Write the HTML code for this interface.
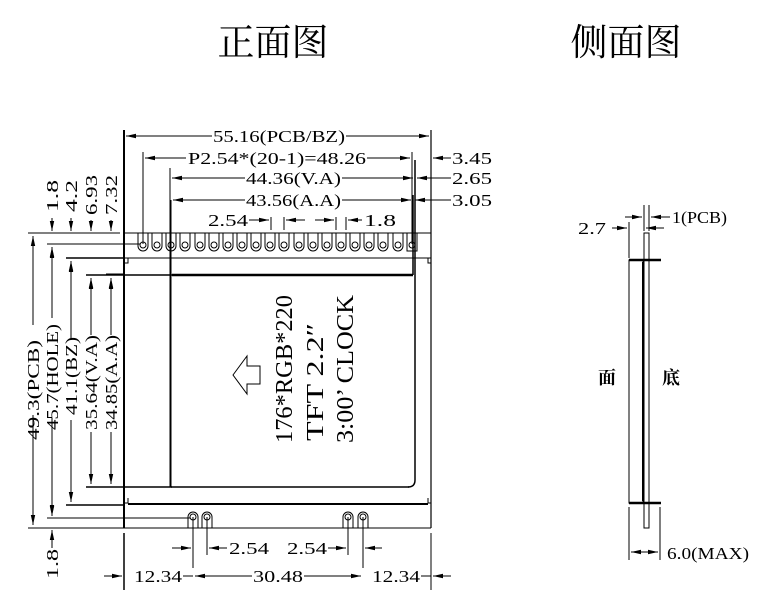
<!DOCTYPE html>
<html><head><meta charset="utf-8"><style>
html,body{margin:0;padding:0;background:#fff;}
svg{display:block;}
text{font-family:"Liberation Serif","Noto Serif CJK SC",serif;fill:#000;}
</style></head><body>
<svg width="781" height="612" viewBox="0 0 781 612" xmlns="http://www.w3.org/2000/svg">
<defs>
<marker id="a" viewBox="0 0 10 6" refX="10" refY="3" markerWidth="11" markerHeight="6" orient="auto-start-reverse" markerUnits="userSpaceOnUse"><path d="M0,0.8 L10,3 L0,5.2 z" fill="#000"/></marker>
</defs>
<text x="273" y="55" font-size="37" text-anchor="middle">正面图</text>
<text x="626" y="55" font-size="37" text-anchor="middle">侧面图</text>

<g stroke="#000" fill="none" stroke-width="1">
<line x1="124" y1="130" x2="124" y2="528" stroke-width="2"/>
<line x1="431" y1="130" x2="431" y2="528" stroke-width="1.2"/>
<line x1="124" y1="233" x2="431" y2="233"/>
<line x1="28" y1="528" x2="431" y2="528"/>
<line x1="124" y1="533" x2="124" y2="590" stroke-width="1.5"/>
<line x1="431" y1="533" x2="431" y2="590"/>
<path d="M128,258 L428,258 M124,258 L128,258 L128,263 L124,263 M431,258 L428,258 L428,263 L431,263"/>
<path d="M128,503 L124,503 M128,503 L128,498 M428,498 L428,503 L431,503"/>
<line x1="128" y1="504" x2="428" y2="504" stroke-width="2"/>
<line x1="172" y1="275" x2="413" y2="275" stroke-width="2.5"/>
<line x1="170" y1="168" x2="170" y2="487"/>
<line x1="171" y1="200" x2="171" y2="487"/>
<path d="M415,160 L415,480 Q415,487 408,487" stroke-width="1.5"/>
<line x1="413" y1="195" x2="413" y2="275" stroke-width="1.5"/>
<line x1="171" y1="487" x2="409" y2="487" stroke-width="1.5"/>
<line x1="28" y1="233" x2="120" y2="233"/>
<line x1="47" y1="244" x2="140" y2="244"/>
<line x1="66" y1="258" x2="124" y2="258" stroke-width="1.5"/>
<line x1="86" y1="275" x2="172" y2="275" stroke-width="1.5"/>
<line x1="106" y1="274" x2="124" y2="274"/>
<line x1="86" y1="487" x2="172" y2="487" stroke-width="1.5"/>
<line x1="66" y1="505" x2="124" y2="505" stroke-width="1.5"/>
<line x1="47" y1="518" x2="190" y2="518"/>
<line x1="33" y1="236" x2="33" y2="325" marker-start="url(#a)"/>
<line x1="33" y1="415" x2="33" y2="525" marker-end="url(#a)"/>
<line x1="52" y1="247" x2="52" y2="318" marker-start="url(#a)"/>
<line x1="52" y1="418" x2="52" y2="515" marker-end="url(#a)"/>
<line x1="71" y1="261" x2="71" y2="340" marker-start="url(#a)"/>
<line x1="71" y1="420" x2="71" y2="502" marker-end="url(#a)"/>
<line x1="91" y1="278" x2="91" y2="335" marker-start="url(#a)"/>
<line x1="91" y1="432" x2="91" y2="484" marker-end="url(#a)"/>
<line x1="111" y1="278" x2="111" y2="335" marker-start="url(#a)"/>
<line x1="111" y1="432" x2="111" y2="484" marker-end="url(#a)"/>
<line x1="52" y1="218" x2="52" y2="231" marker-end="url(#a)"/>
<line x1="52" y1="248" x2="52" y2="262" marker-start="url(#a)"/>
<line x1="71" y1="218" x2="71" y2="231" marker-end="url(#a)"/>
<line x1="71" y1="262" x2="71" y2="280" marker-start="url(#a)"/>
<line x1="91" y1="220" x2="91" y2="231" marker-end="url(#a)"/>
<line x1="91" y1="279" x2="91" y2="290" marker-start="url(#a)"/>
<line x1="111" y1="220" x2="111" y2="231" marker-end="url(#a)"/>
<line x1="111" y1="279" x2="111" y2="290" marker-start="url(#a)"/>
<line x1="52" y1="497" x2="52" y2="516" marker-end="url(#a)"/>
<line x1="52" y1="530" x2="52" y2="548" marker-start="url(#a)"/>
<line x1="126" y1="136" x2="212" y2="136" marker-start="url(#a)"/>
<line x1="346" y1="136" x2="429" y2="136" marker-end="url(#a)"/>
<line x1="143" y1="152" x2="143" y2="244"/>
<line x1="412" y1="152" x2="412" y2="244"/>
<line x1="145" y1="158" x2="186" y2="158" marker-start="url(#a)"/>
<line x1="367" y1="158" x2="410" y2="158" marker-end="url(#a)"/>
<line x1="451" y1="158" x2="433" y2="158" marker-end="url(#a)"/>
<line x1="172" y1="178" x2="245" y2="178" marker-start="url(#a)"/>
<line x1="342" y1="178" x2="413" y2="178" marker-end="url(#a)"/>
<line x1="451" y1="178" x2="417" y2="178" marker-end="url(#a)"/>
<line x1="173" y1="200" x2="245" y2="200" marker-start="url(#a)"/>
<line x1="342" y1="200" x2="411" y2="200" marker-end="url(#a)"/>
<line x1="451" y1="200" x2="415" y2="200" marker-end="url(#a)"/>
<line x1="249" y1="220" x2="269" y2="220" marker-end="url(#a)"/>
<line x1="305" y1="220" x2="286" y2="220" marker-end="url(#a)"/>
<line x1="315" y1="220" x2="334" y2="220" marker-end="url(#a)"/>
<line x1="362" y1="220" x2="348" y2="220" marker-end="url(#a)"/>
<line x1="271" y1="217" x2="271" y2="230"/>
<line x1="284" y1="217" x2="284" y2="230"/>
<line x1="336" y1="217" x2="336" y2="230"/>
<line x1="346" y1="217" x2="346" y2="230"/>
<path d="M188,528 L188,517 A5,5 0 0 1 198,517 L198,528 M202,528 L202,517 A5,5 0 0 1 212,517 L212,528 M343,528 L343,517 A5,5 0 0 1 353,517 L353,528 M358,528 L358,517 A5,5 0 0 1 368,517 L368,528"/>
<circle cx="193" cy="517" r="3"/><circle cx="207" cy="517" r="3"/>
<circle cx="348" cy="517" r="3"/><circle cx="363" cy="517" r="3"/>
<line x1="193" y1="517" x2="193" y2="568"/>
<line x1="207" y1="517" x2="207" y2="555"/>
<line x1="348" y1="517" x2="348" y2="555"/>
<line x1="363" y1="517" x2="363" y2="568"/>
<line x1="172" y1="548" x2="191" y2="548" marker-end="url(#a)"/>
<line x1="227" y1="548" x2="209" y2="548" marker-end="url(#a)"/>
<line x1="328" y1="548" x2="346" y2="548" marker-end="url(#a)"/>
<line x1="382" y1="548" x2="365" y2="548" marker-end="url(#a)"/>
<line x1="104" y1="576" x2="122" y2="576" marker-end="url(#a)"/>
<line x1="195" y1="576" x2="252" y2="576" marker-start="url(#a)"/>
<line x1="304" y1="576" x2="361" y2="576" marker-end="url(#a)"/>
<line x1="451" y1="576" x2="433" y2="576" marker-end="url(#a)"/>
<line x1="183" y1="576" x2="193" y2="576"/>
<line x1="421" y1="576" x2="431" y2="576"/>
<path d="M233,375 L247,356 L247,366 L260,366 L260,384 L247,384 L247,394 Z"/>
<rect x="629" y="260" width="14" height="243"/>
<rect x="644" y="233" width="5" height="295"/>
<line x1="629" y1="260" x2="661" y2="260" stroke-width="2.5"/>
<line x1="629" y1="503" x2="661" y2="503" stroke-width="2.5"/>
<line x1="643" y1="262" x2="643" y2="501" stroke-width="2"/>
<line x1="629" y1="222" x2="629" y2="258"/>
<line x1="644" y1="205" x2="644" y2="231"/>
<line x1="649" y1="205" x2="649" y2="231"/>
<line x1="625" y1="217" x2="642" y2="217" marker-end="url(#a)"/>
<line x1="670" y1="217" x2="651" y2="217" marker-end="url(#a)"/>
<line x1="612" y1="228" x2="627" y2="228" marker-end="url(#a)"/>
<line x1="664" y1="228" x2="646" y2="228" marker-end="url(#a)"/>
<line x1="629" y1="507" x2="629" y2="560"/>
<line x1="660" y1="507" x2="660" y2="560"/>
<line x1="631" y1="552" x2="658" y2="552" marker-start="url(#a)" marker-end="url(#a)"/>
</g>

<g stroke="#000" fill="none" stroke-width="1">
<path d="M138,233 L138,246 A5,5 0 0 0 148,246 L148,233
M152,233 L152,246 A5,5 0 0 0 162,246 L162,233
M166,233 L166,246 A5,5 0 0 0 176,246 L176,233
M180,233 L180,246 A5,5 0 0 0 190,246 L190,233
M195,233 L195,246 A5,5 0 0 0 205,246 L205,233
M209,233 L209,246 A5,5 0 0 0 219,246 L219,233
M223,233 L223,246 A5,5 0 0 0 233,246 L233,233
M237,233 L237,246 A5,5 0 0 0 247,246 L247,233
M251,233 L251,246 A5,5 0 0 0 261,246 L261,233
M265,233 L265,246 A5,5 0 0 0 275,246 L275,233
M279,233 L279,246 A5,5 0 0 0 289,246 L289,233
M294,233 L294,246 A5,5 0 0 0 304,246 L304,233
M308,233 L308,246 A5,5 0 0 0 318,246 L318,233
M322,233 L322,246 A5,5 0 0 0 332,246 L332,233
M336,233 L336,246 A5,5 0 0 0 346,246 L346,233
M350,233 L350,246 A5,5 0 0 0 360,246 L360,233
M364,233 L364,246 A5,5 0 0 0 374,246 L374,233
M378,233 L378,246 A5,5 0 0 0 388,246 L388,233
M393,233 L393,246 A5,5 0 0 0 403,246 L403,233
M407,233 L407,251 L417,251 L417,233"/>
<circle cx="143" cy="245" r="3"/><circle cx="157" cy="245" r="3"/><circle cx="171" cy="245" r="3"/><circle cx="185" cy="245" r="3"/><circle cx="200" cy="245" r="3"/><circle cx="214" cy="245" r="3"/><circle cx="228" cy="245" r="3"/><circle cx="242" cy="245" r="3"/><circle cx="256" cy="245" r="3"/><circle cx="270" cy="245" r="3"/><circle cx="284" cy="245" r="3"/><circle cx="299" cy="245" r="3"/><circle cx="313" cy="245" r="3"/><circle cx="327" cy="245" r="3"/><circle cx="341" cy="245" r="3"/><circle cx="355" cy="245" r="3"/><circle cx="369" cy="245" r="3"/><circle cx="383" cy="245" r="3"/><circle cx="398" cy="245" r="3"/><circle cx="412" cy="245" r="3"/>
</g>

<g font-size="17">
<text x="213" y="142" textLength="132" lengthAdjust="spacingAndGlyphs">55.16(PCB/BZ)</text>
<text x="188" y="164" textLength="178" lengthAdjust="spacingAndGlyphs">P2.54*(20-1)=48.26</text>
<text x="246" y="184" textLength="95" lengthAdjust="spacingAndGlyphs">44.36(V.A)</text>
<text x="246" y="206" textLength="95" lengthAdjust="spacingAndGlyphs">43.56(A.A)</text>
<text x="208" y="226" textLength="40" lengthAdjust="spacingAndGlyphs">2.54</text>
<text x="364" y="226" textLength="32" lengthAdjust="spacingAndGlyphs">1.8</text>
<text x="452" y="164" textLength="40" lengthAdjust="spacingAndGlyphs">3.45</text>
<text x="452" y="184" textLength="40" lengthAdjust="spacingAndGlyphs">2.65</text>
<text x="452" y="206" textLength="40" lengthAdjust="spacingAndGlyphs">3.05</text>
<text x="229" y="554" textLength="40" lengthAdjust="spacingAndGlyphs">2.54</text>
<text x="287" y="554" textLength="40" lengthAdjust="spacingAndGlyphs">2.54</text>
<text x="134" y="582" textLength="48" lengthAdjust="spacingAndGlyphs">12.34</text>
<text x="253" y="582" textLength="50" lengthAdjust="spacingAndGlyphs">30.48</text>
<text x="372" y="582" textLength="48" lengthAdjust="spacingAndGlyphs">12.34</text>
<text x="672" y="223" textLength="55" lengthAdjust="spacingAndGlyphs">1(PCB)</text>
<text x="578" y="234" textLength="28" lengthAdjust="spacingAndGlyphs">2.7</text>
<text x="667" y="559" textLength="82" lengthAdjust="spacingAndGlyphs">6.0(MAX)</text>
<text x="598" y="384" font-size="18" font-weight="bold">面</text>
<text x="662" y="384" font-size="18" font-weight="bold">底</text>
<text transform="translate(39,440) rotate(-90)" textLength="100" lengthAdjust="spacingAndGlyphs">49.3(PCB)</text>
<text transform="translate(58,430) rotate(-90)" textLength="106" lengthAdjust="spacingAndGlyphs">45.7(HOLE)</text>
<text transform="translate(77,415) rotate(-90)" textLength="78" lengthAdjust="spacingAndGlyphs">41.1(BZ)</text>
<text transform="translate(97,430) rotate(-90)" textLength="95" lengthAdjust="spacingAndGlyphs">35.64(V.A)</text>
<text transform="translate(117,430) rotate(-90)" textLength="95" lengthAdjust="spacingAndGlyphs">34.85(A.A)</text>
<text transform="translate(58,212) rotate(-90)" textLength="32" lengthAdjust="spacingAndGlyphs">1.8</text>
<text transform="translate(77,212) rotate(-90)" textLength="32" lengthAdjust="spacingAndGlyphs">4.2</text>
<text transform="translate(97,215) rotate(-90)" textLength="40" lengthAdjust="spacingAndGlyphs">6.93</text>
<text transform="translate(117,215) rotate(-90)" textLength="40" lengthAdjust="spacingAndGlyphs">7.32</text>
<text transform="translate(58,579) rotate(-90)" textLength="30" lengthAdjust="spacingAndGlyphs">1.8</text>
</g>
<g font-size="24">
<text transform="translate(292,443) rotate(-90)" textLength="148" lengthAdjust="spacingAndGlyphs">176*RGB*220</text>
<text transform="translate(323,441) rotate(-90)" textLength="118" lengthAdjust="spacingAndGlyphs">TFT  2.2″</text>
<text transform="translate(353,443) rotate(-90)" textLength="148" lengthAdjust="spacingAndGlyphs">3:00’ CLOCK</text>
</g>
</svg>
</body></html>
